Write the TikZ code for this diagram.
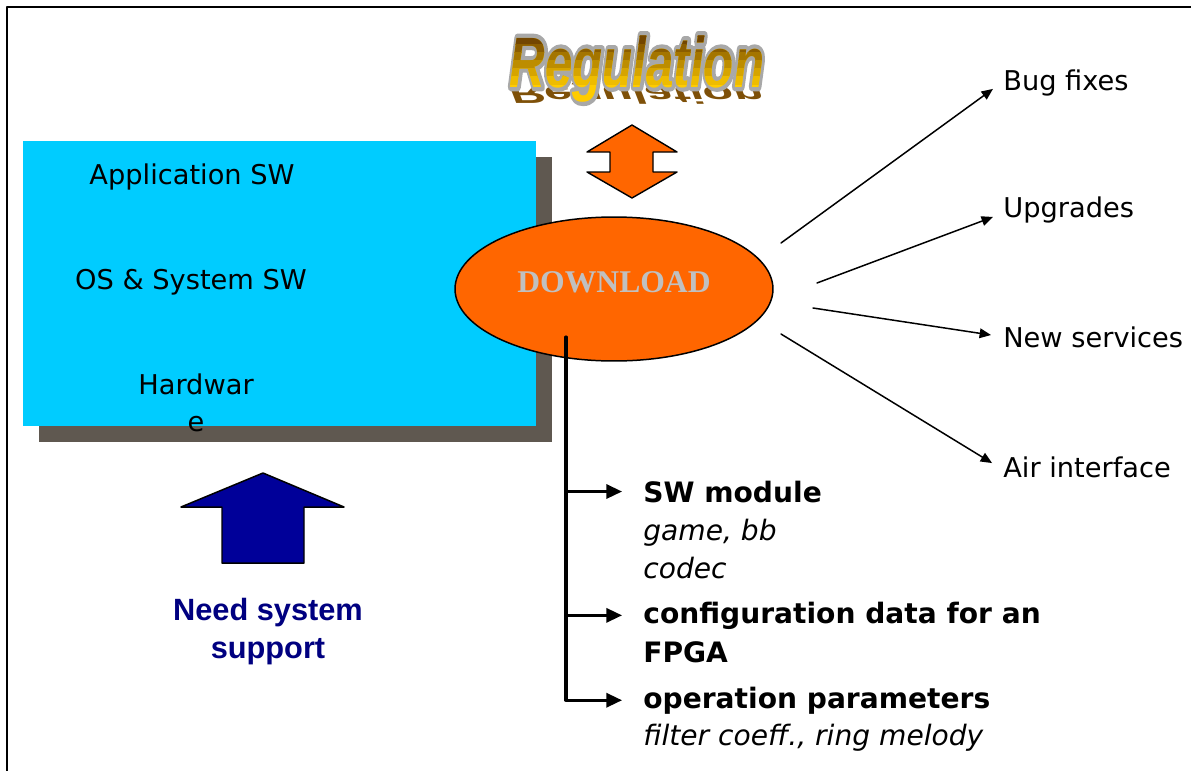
\documentclass[tikz,border=0pt]{standalone}
\usepackage{fontspec}
\setmainfont{DejaVu Sans}
\newfontfamily\dlfont{Liberation Serif}
\newfontfamily\needfont{Liberation Sans}
\newfontfamily\regfont{Liberation Sans Bold Italic}
\newfontfamily\regedge{Liberation Sans Bold Italic}[FakeBold=12]
\usetikzlibrary{arrows.meta}
\usetikzlibrary{shapes.geometric}
\usetikzlibrary{positioning}
\definecolor{boxblue}{HTML}{00CCFF}
\definecolor{boxshade}{HTML}{5F5850}
\definecolor{dlorange}{HTML}{FF6600}
\definecolor{dlgray}{HTML}{C0C0C0}
\definecolor{needblue}{HTML}{000099}
\definecolor{needtext}{HTML}{000080}
\definecolor{regtop}{HTML}{5A2E00}
\definecolor{regbot}{HTML}{FFCC00}
\definecolor{regmirror}{HTML}{7E5008}
\definecolor{regrim}{HTML}{A8A8A8}
\tikzset{
  boxtext/.style={font=\fontsize{15.5}{21.5}\selectfont,text height=11.3pt,text depth=0pt,inner sep=0pt},
  outtext/.style={font=\fontsize{15.5}{18}\selectfont,anchor=west,text height=11.3pt,text depth=0pt,inner sep=0pt},
  itemtext/.style={font=\bfseries\fontsize{16}{20}\selectfont,anchor=base west,inner sep=0pt},
  notetext/.style={font=\itshape\fontsize{16}{20}\selectfont,anchor=base west,inner sep=0pt},
  regword/.style={font=\regfont\fontsize{28}{30}\selectfont,transform shape,anchor=base,inner sep=0pt},
  stemline/.style={line width=1.8pt,-{Triangle[length=9pt,width=8pt]}}
}
\begin{document}
\begin{tikzpicture}[line cap=round,line join=round,>={Triangle[length=6.5pt,width=5.5pt]},x=0.02cm,y=-0.02cm]
		\useasboundingbox (0,0) rectangle (1191,771);
		\draw [line width=1.2pt] (7,771)-- (7,7)-- (1191,7);
		\begin{scope}[shift={(636,86)},yscale=-0.5]
		\node [regword,text=regmirror] (regflip) at (0,0) {Regulation};
		\end{scope}
		\begin{scope}[shift={(637,87)},yscale=1.45]
		\node [regword,font=\regedge\fontsize{28}{30}\selectfont,text=regrim] (regout) at (0,0) {Regulation};
		\node [regword,text=regbot] (regin) at (0,0) {Regulation};
		\end{scope}
		\foreach \i in {0,...,6}{
		\pgfmathtruncatemacro{\pct}{100-\i*15}
		\begin{scope}
		\clip (480,{28+\i*8}) rectangle (800,{36+\i*8});
		\begin{scope}[shift={(637,87)},yscale=1.45]
		\node [regword,text=regtop!\pct!regbot] (reg\i) at (0,0) {Regulation};
		\end{scope}
		\end{scope}
		}
		\draw [fill=dlorange,line width=0.8pt] (632,125)-- (677,152)-- (653,152)-- (653,172)-- (677,172)-- (632,198)-- (587,172)-- (610,172)-- (610,152)-- (587,152)-- cycle;
		\fill [boxshade] (39,157) rectangle (552,442);
		\fill [boxblue] (23,141) rectangle (536,426);
		\node [boxtext] (appsw) at (192,175) {Application SW};
		\node [boxtext] (ossw) at (191,280) {OS \& System SW};
		\node [font=\fontsize{15.5}{21.5}\selectfont,align=center,anchor=north,inner sep=0pt] (hwtxt) at (196,373) {Hardwar\\e};
		\node [ellipse,draw,fill=dlorange,line width=0.85pt,minimum width=6.36cm,minimum height=2.88cm,inner sep=0pt,font=\dlfont\bfseries\fontsize{18}{20}\selectfont,text=dlgray,text height=12pt,text depth=8.5pt] (dl) at (614,289) {DOWNLOAD};
		\node [outtext] (bug) at (1003,81) {Bug fixes};
		\node [outtext] (upg) at (1003,208) {Upgrades};
		\node [outtext] (newsrv) at (1003,338) {New services};
		\node [outtext] (airif) at (1003,468) {Air interface};
		\coordinate (fan1) at (781,243);
		\coordinate (fan2) at (817,283);
		\coordinate (fan3) at (813,308);
		\coordinate (fan4) at (781,334);
		\draw [line width=0.85pt,->] (fan1)-- ([xshift=-5.7pt,yshift=-4.5pt]bug.west);
		\draw [line width=0.85pt,->] (fan2)-- ([xshift=-5.7pt,yshift=-5.1pt]upg.west);
		\draw [line width=0.85pt,->] (fan3)-- ([xshift=-6.8pt,yshift=1.7pt]newsrv.west);
		\draw [line width=0.85pt,->] (fan4)-- ([xshift=-6.2pt,yshift=2.8pt]airif.west);
		\node [itemtext] (swmod) at (643,502) {SW module};
		\node [notetext] (swnote) at (643,540) {game, bb};
		\node [notetext] (swcodec) at (643,578) {codec};
		\node [itemtext] (cfg) at (643,623) {configuration data for an};
		\node [itemtext] (cfgfpga) at (643,662) {FPGA};
		\node [itemtext] (opp) at (643,708) {operation parameters};
		\node [notetext] (oppnote) at (643,745) {filter coeff., ring melody};
		\coordinate (stem) at (566,337);
		\draw [stemline] (stem) |- ([xshift=-11.9pt]opp.west);
		\draw [stemline] (stem |- swmod.west)-- ([xshift=-11.9pt]swmod.west);
		\draw [stemline] (stem |- cfg.west)-- ([xshift=-11.9pt]cfg.west);
		\draw [fill=needblue,line width=0.85pt] (263,473)-- (344,507)-- (304,507)-- (304,563)-- (222,563)-- (222,507)-- (181,507)-- cycle;
		\node [font=\needfont\bfseries\fontsize{17.5}{21.5}\selectfont,text=needtext,align=center,anchor=north,inner sep=0pt] (need) at (268,598) {Need system\\support};
\end{tikzpicture}
\end{document}
